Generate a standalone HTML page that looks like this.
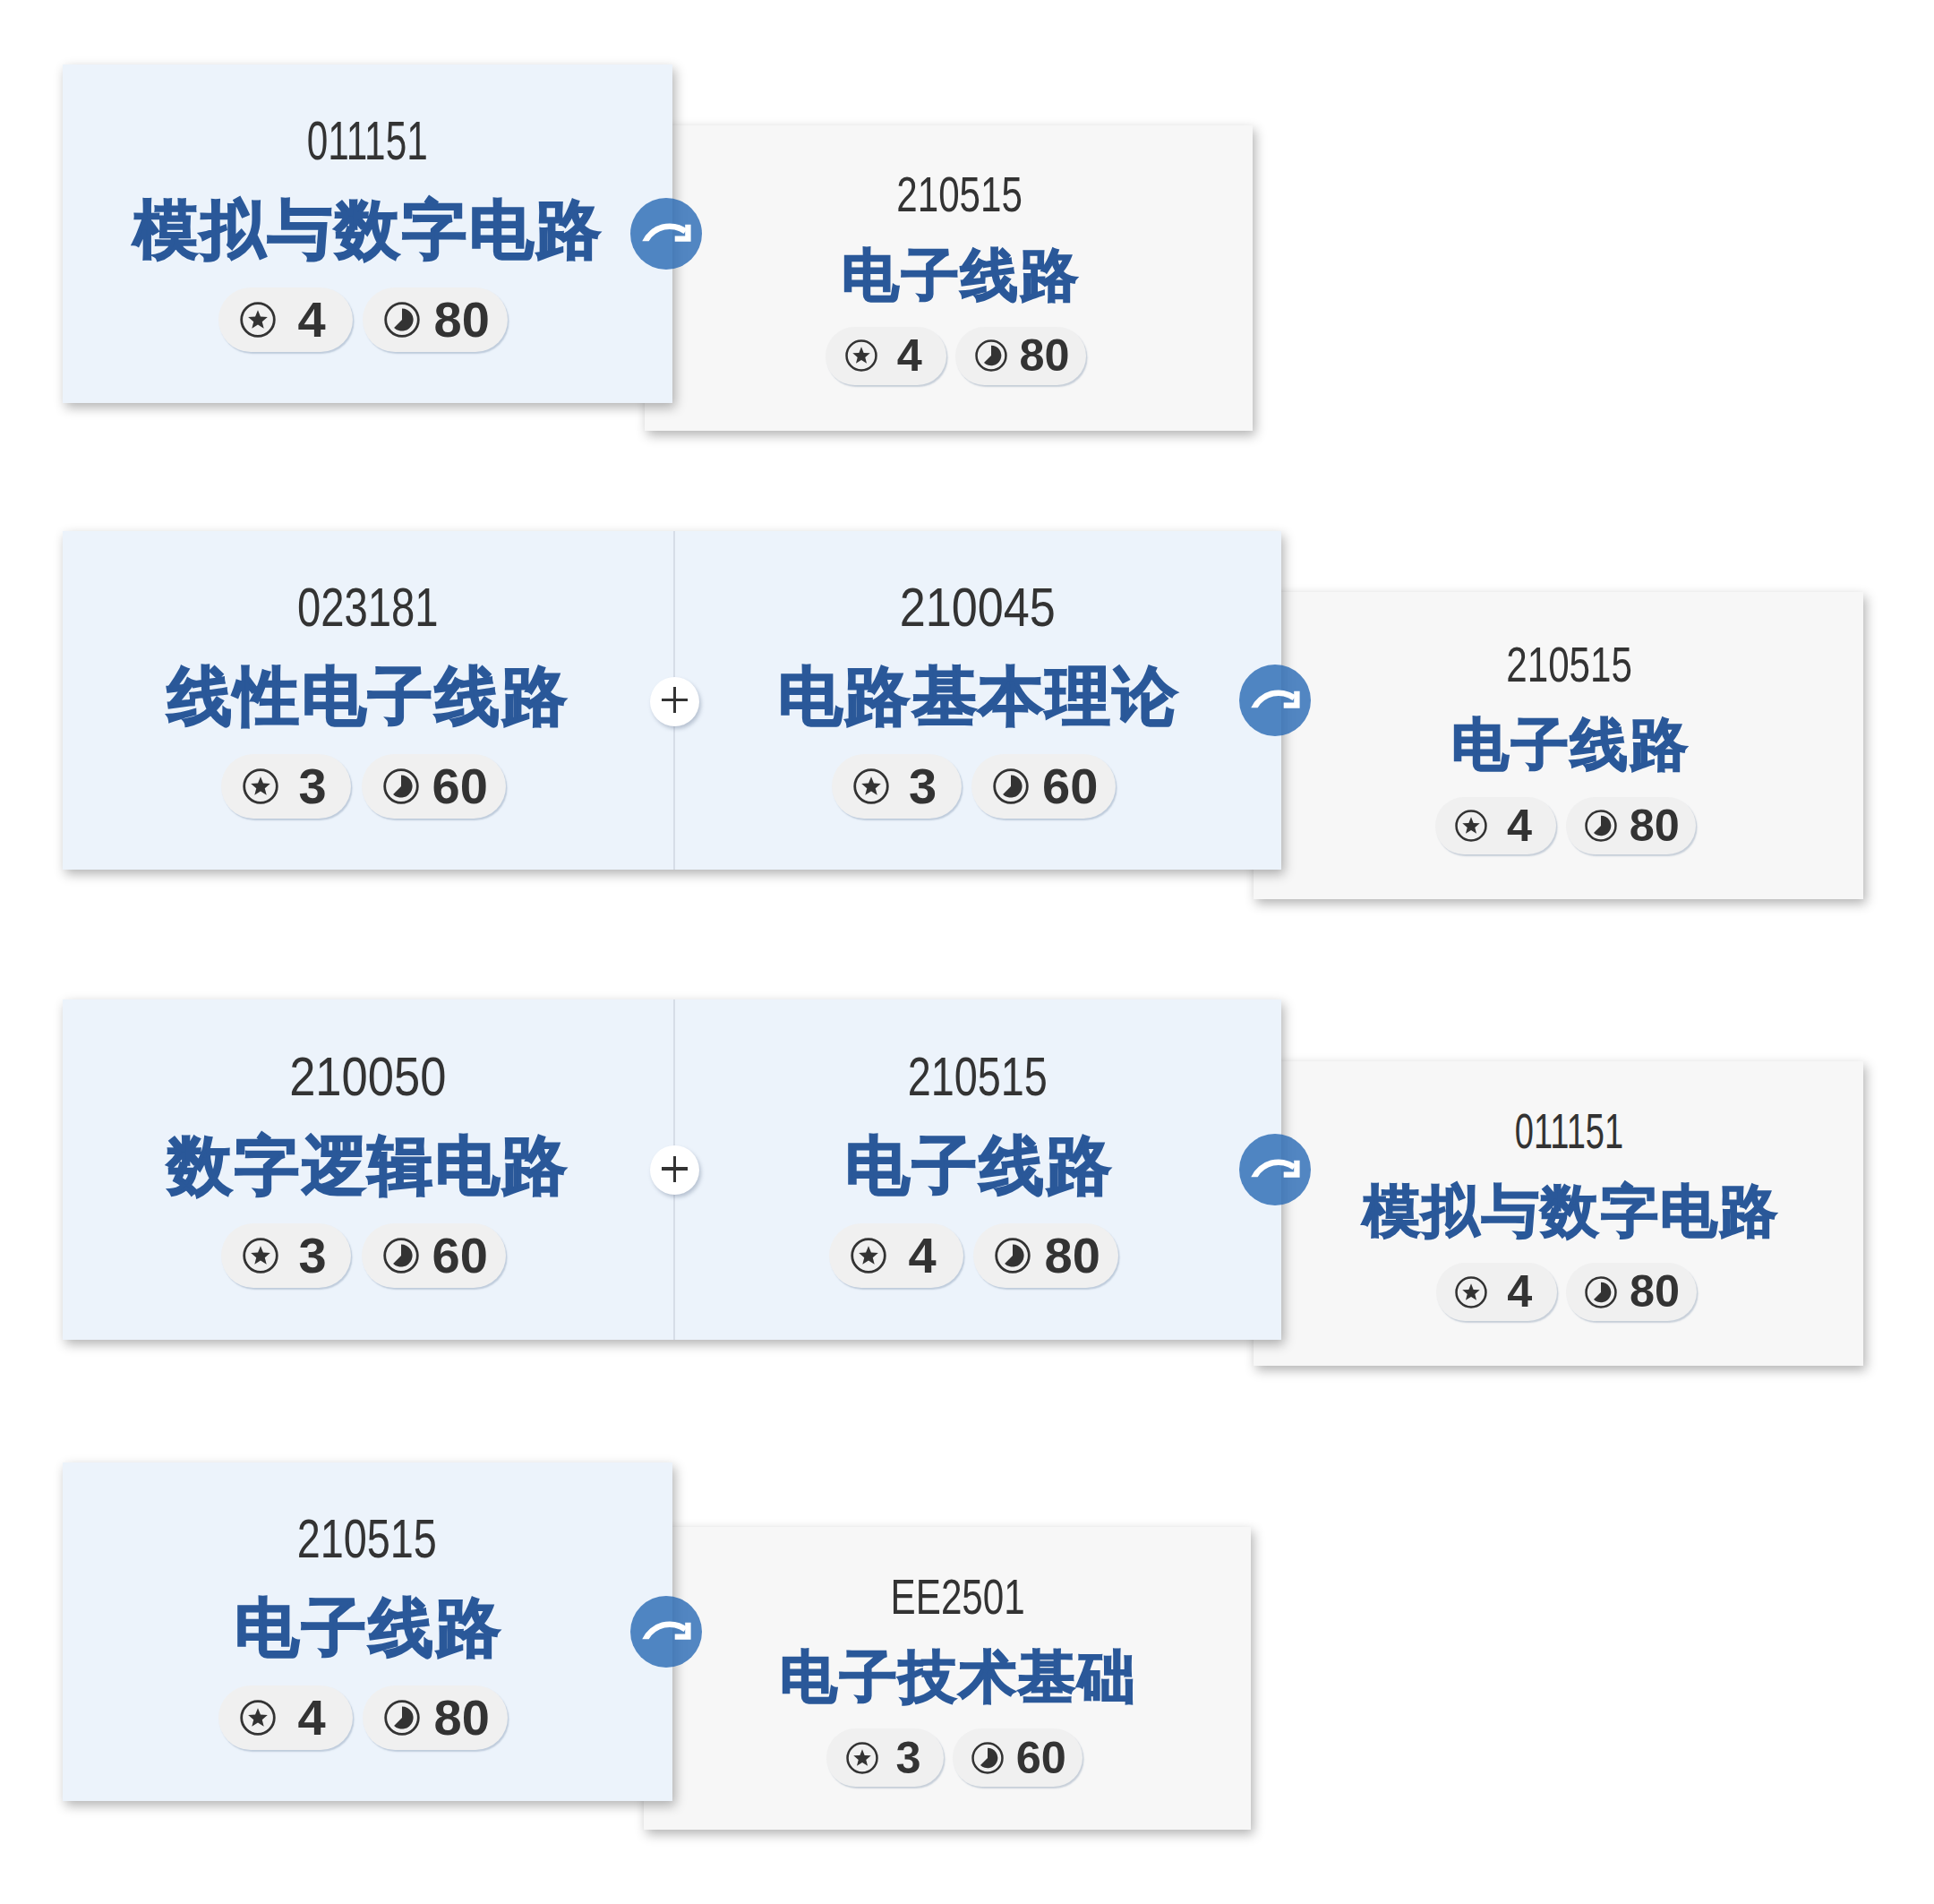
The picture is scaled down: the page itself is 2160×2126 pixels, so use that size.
<!DOCTYPE html>
<html><head><meta charset="utf-8"><title>courses</title><style>
html,body{margin:0;padding:0;background:#fff;}
body{width:2160px;height:2126px;position:relative;overflow:hidden;font-family:"Liberation Sans",sans-serif;}
.card{position:absolute;box-shadow:3px 5px 12px rgba(0,0,0,0.30);}
.code{position:absolute;width:1000px;text-align:center;color:#333333;white-space:nowrap;z-index:5}
.code span{display:inline-block;transform-origin:50% 50%}
.name{position:absolute;width:1000px;text-align:center;color:#2a5899;font-weight:bold;white-space:nowrap;z-index:5}
.name span{display:inline-block;transform:scaleX(1.015);letter-spacing:0.04em;margin-right:-0.04em}
.pills{position:absolute;display:flex;z-index:5}
.pill{box-sizing:border-box;display:flex;align-items:center;background:#f0f0f0;box-shadow:1.5px 2px 1.5px rgba(90,115,150,0.30);}
.pv{flex:1;text-align:center;font-weight:bold;color:#333333;line-height:1;}
.divider{position:absolute;width:2px;background:#d6dde7;z-index:3}
.arrow{position:absolute;border-radius:50%;background:rgba(40,105,180,0.8);z-index:10}
.plus{position:absolute;border-radius:50%;background:#fff;box-shadow:2px 3px 4px rgba(120,135,160,0.45);z-index:10}
</style></head><body>
<div class="card" style="left:70px;top:72px;width:681px;height:377.5px;background:#ecf3fb;z-index:2"></div>
<div class="code" style="left:-90.00px;top:127.00px;font-size:61.00px;line-height:61.00px"><span style="transform:scaleX(0.6938)">011151</span></div>
<div class="name" style="left:-90.00px;top:221.58px;font-size:70.50px;line-height:70.50px;-webkit-text-stroke:2.00px #2a5899"><span>模拟与数字电路</span></div>
<div class="pills" style="left:243.95px;top:320.95px;gap:11.50px"><div class="pill" style="width:150.00px;height:72.00px;border-radius:36.00px;padding-left:24.00px;padding-right:5.50px"><svg width="40.00" height="40.00" viewBox="0 0 40 40" style="display:block;flex:none"><circle cx="20" cy="20" r="18.3" fill="none" stroke="#333333" stroke-width="2.8"/><path d="M20.00,9.20 L22.94,16.55 L30.84,17.08 L24.76,22.15 L26.70,29.82 L20.00,25.60 L13.30,29.82 L15.24,22.15 L9.16,17.08 L17.06,16.55Z" fill="#333333"/></svg><span class="pv" style="font-size:56.00px">4</span></div><div class="pill" style="width:162.00px;height:72.00px;border-radius:36.00px;padding-left:24.00px;padding-right:5.50px"><svg width="40.00" height="40.00" viewBox="0 0 40 40" style="display:block;flex:none"><circle cx="20" cy="20" r="18.3" fill="none" stroke="#333333" stroke-width="2.8"/><path d="M20,20 L20,7.4 A12.6,12.6 0 1 1 11.09,28.91 Z" fill="#333333"/></svg><span class="pv" style="font-size:56.00px">80</span></div></div>
<div class="arrow" style="left:704.00px;top:220.75px;width:80px;height:80px"><svg width="80" height="80" viewBox="0 0 80 80" style="display:block"><path d="M13.24,48.2 A33.8,33.8 0 0 1 63.39,34.51 L59.60,39.92 A27.2,27.2 0 0 0 20.68,48.2 Z" fill="#fff"/><polyline points="64.4,29.8 64.4,45.6 49.7,45.6" fill="none" stroke="#fff" stroke-width="6.4" stroke-linejoin="miter" stroke-linecap="butt"/></svg></div>
<div class="card" style="left:719.5px;top:140.4px;width:679.3px;height:340.9px;background:#f7f7f7;z-index:1"></div>
<div class="code" style="left:571.45px;top:190.48px;font-size:54.90px;line-height:54.90px"><span style="transform:scaleX(0.7672)">210515</span></div>
<div class="name" style="left:571.45px;top:275.60px;font-size:63.45px;line-height:63.45px;-webkit-text-stroke:1.80px #2a5899"><span>电子线路</span></div>
<div class="pills" style="left:922.00px;top:365.03px;gap:10.35px"><div class="pill" style="width:135.00px;height:64.80px;border-radius:32.40px;padding-left:21.60px;padding-right:4.95px"><svg width="36.00" height="36.00" viewBox="0 0 40 40" style="display:block;flex:none"><circle cx="20" cy="20" r="18.3" fill="none" stroke="#333333" stroke-width="2.8"/><path d="M20.00,9.20 L22.94,16.55 L30.84,17.08 L24.76,22.15 L26.70,29.82 L20.00,25.60 L13.30,29.82 L15.24,22.15 L9.16,17.08 L17.06,16.55Z" fill="#333333"/></svg><span class="pv" style="font-size:50.40px">4</span></div><div class="pill" style="width:145.80px;height:64.80px;border-radius:32.40px;padding-left:21.60px;padding-right:4.95px"><svg width="36.00" height="36.00" viewBox="0 0 40 40" style="display:block;flex:none"><circle cx="20" cy="20" r="18.3" fill="none" stroke="#333333" stroke-width="2.8"/><path d="M20,20 L20,7.4 A12.6,12.6 0 1 1 11.09,28.91 Z" fill="#333333"/></svg><span class="pv" style="font-size:50.40px">80</span></div></div>
<div class="card" style="left:70px;top:592.7px;width:1361px;height:378.5999999999999px;background:#ecf3fb;z-index:2"></div>
<div class="divider" style="left:752.2px;top:592.7px;height:378.5999999999999px"></div>
<div class="code" style="left:-89.50px;top:648.25px;font-size:61.00px;line-height:61.00px"><span style="transform:scaleX(0.7747)">023181</span></div>
<div class="name" style="left:-89.50px;top:742.83px;font-size:70.50px;line-height:70.50px;-webkit-text-stroke:2.00px #2a5899"><span>线性电子线路</span></div>
<div class="pills" style="left:247.45px;top:842.20px;gap:11.50px"><div class="pill" style="width:145.00px;height:72.00px;border-radius:36.00px;padding-left:24.00px;padding-right:5.50px"><svg width="40.00" height="40.00" viewBox="0 0 40 40" style="display:block;flex:none"><circle cx="20" cy="20" r="18.3" fill="none" stroke="#333333" stroke-width="2.8"/><path d="M20.00,9.20 L22.94,16.55 L30.84,17.08 L24.76,22.15 L26.70,29.82 L20.00,25.60 L13.30,29.82 L15.24,22.15 L9.16,17.08 L17.06,16.55Z" fill="#333333"/></svg><span class="pv" style="font-size:56.00px">3</span></div><div class="pill" style="width:161.00px;height:72.00px;border-radius:36.00px;padding-left:24.00px;padding-right:5.50px"><svg width="40.00" height="40.00" viewBox="0 0 40 40" style="display:block;flex:none"><circle cx="20" cy="20" r="18.3" fill="none" stroke="#333333" stroke-width="2.8"/><path d="M20,20 L20,7.4 A12.6,12.6 0 1 1 11.09,28.91 Z" fill="#333333"/></svg><span class="pv" style="font-size:56.00px">60</span></div></div>
<div class="code" style="left:592.00px;top:648.25px;font-size:61.00px;line-height:61.00px"><span style="transform:scaleX(0.8558)">210045</span></div>
<div class="name" style="left:592.00px;top:742.83px;font-size:70.50px;line-height:70.50px;-webkit-text-stroke:2.00px #2a5899"><span>电路基本理论</span></div>
<div class="pills" style="left:928.95px;top:842.20px;gap:11.50px"><div class="pill" style="width:145.00px;height:72.00px;border-radius:36.00px;padding-left:24.00px;padding-right:5.50px"><svg width="40.00" height="40.00" viewBox="0 0 40 40" style="display:block;flex:none"><circle cx="20" cy="20" r="18.3" fill="none" stroke="#333333" stroke-width="2.8"/><path d="M20.00,9.20 L22.94,16.55 L30.84,17.08 L24.76,22.15 L26.70,29.82 L20.00,25.60 L13.30,29.82 L15.24,22.15 L9.16,17.08 L17.06,16.55Z" fill="#333333"/></svg><span class="pv" style="font-size:56.00px">3</span></div><div class="pill" style="width:161.00px;height:72.00px;border-radius:36.00px;padding-left:24.00px;padding-right:5.50px"><svg width="40.00" height="40.00" viewBox="0 0 40 40" style="display:block;flex:none"><circle cx="20" cy="20" r="18.3" fill="none" stroke="#333333" stroke-width="2.8"/><path d="M20,20 L20,7.4 A12.6,12.6 0 1 1 11.09,28.91 Z" fill="#333333"/></svg><span class="pv" style="font-size:56.00px">60</span></div></div>
<div class="plus" style="left:726.00px;top:755.50px;width:55px;height:55px"><div style="position:absolute;left:13.10px;top:24.10px;width:28.8px;height:3.8px;background:#333333"></div><div style="position:absolute;left:25.60px;top:11.80px;width:3.8px;height:28.4px;background:#333333"></div></div>
<div class="arrow" style="left:1384.00px;top:742.00px;width:80px;height:80px"><svg width="80" height="80" viewBox="0 0 80 80" style="display:block"><path d="M13.24,48.2 A33.8,33.8 0 0 1 63.39,34.51 L59.60,39.92 A27.2,27.2 0 0 0 20.68,48.2 Z" fill="#fff"/><polyline points="64.4,29.8 64.4,45.6 49.7,45.6" fill="none" stroke="#fff" stroke-width="6.4" stroke-linejoin="miter" stroke-linecap="butt"/></svg></div>
<div class="card" style="left:1399.5px;top:660.5px;width:681.6999999999998px;height:343.9px;background:#f7f7f7;z-index:1"></div>
<div class="code" style="left:1252.65px;top:715.08px;font-size:54.90px;line-height:54.90px"><span style="transform:scaleX(0.7672)">210515</span></div>
<div class="name" style="left:1252.65px;top:800.20px;font-size:63.45px;line-height:63.45px;-webkit-text-stroke:1.80px #2a5899"><span>电子线路</span></div>
<div class="pills" style="left:1603.20px;top:889.63px;gap:10.35px"><div class="pill" style="width:135.00px;height:64.80px;border-radius:32.40px;padding-left:21.60px;padding-right:4.95px"><svg width="36.00" height="36.00" viewBox="0 0 40 40" style="display:block;flex:none"><circle cx="20" cy="20" r="18.3" fill="none" stroke="#333333" stroke-width="2.8"/><path d="M20.00,9.20 L22.94,16.55 L30.84,17.08 L24.76,22.15 L26.70,29.82 L20.00,25.60 L13.30,29.82 L15.24,22.15 L9.16,17.08 L17.06,16.55Z" fill="#333333"/></svg><span class="pv" style="font-size:50.40px">4</span></div><div class="pill" style="width:145.80px;height:64.80px;border-radius:32.40px;padding-left:21.60px;padding-right:4.95px"><svg width="36.00" height="36.00" viewBox="0 0 40 40" style="display:block;flex:none"><circle cx="20" cy="20" r="18.3" fill="none" stroke="#333333" stroke-width="2.8"/><path d="M20,20 L20,7.4 A12.6,12.6 0 1 1 11.09,28.91 Z" fill="#333333"/></svg><span class="pv" style="font-size:50.40px">80</span></div></div>
<div class="card" style="left:70px;top:1115.8px;width:1361px;height:380.10000000000014px;background:#ecf3fb;z-index:2"></div>
<div class="divider" style="left:752.2px;top:1115.8px;height:380.10000000000014px"></div>
<div class="code" style="left:-89.50px;top:1172.10px;font-size:61.00px;line-height:61.00px"><span style="transform:scaleX(0.8608)">210050</span></div>
<div class="name" style="left:-89.50px;top:1266.68px;font-size:70.50px;line-height:70.50px;-webkit-text-stroke:2.00px #2a5899"><span>数字逻辑电路</span></div>
<div class="pills" style="left:247.45px;top:1366.05px;gap:11.50px"><div class="pill" style="width:145.00px;height:72.00px;border-radius:36.00px;padding-left:24.00px;padding-right:5.50px"><svg width="40.00" height="40.00" viewBox="0 0 40 40" style="display:block;flex:none"><circle cx="20" cy="20" r="18.3" fill="none" stroke="#333333" stroke-width="2.8"/><path d="M20.00,9.20 L22.94,16.55 L30.84,17.08 L24.76,22.15 L26.70,29.82 L20.00,25.60 L13.30,29.82 L15.24,22.15 L9.16,17.08 L17.06,16.55Z" fill="#333333"/></svg><span class="pv" style="font-size:56.00px">3</span></div><div class="pill" style="width:161.00px;height:72.00px;border-radius:36.00px;padding-left:24.00px;padding-right:5.50px"><svg width="40.00" height="40.00" viewBox="0 0 40 40" style="display:block;flex:none"><circle cx="20" cy="20" r="18.3" fill="none" stroke="#333333" stroke-width="2.8"/><path d="M20,20 L20,7.4 A12.6,12.6 0 1 1 11.09,28.91 Z" fill="#333333"/></svg><span class="pv" style="font-size:56.00px">60</span></div></div>
<div class="code" style="left:592.00px;top:1172.10px;font-size:61.00px;line-height:61.00px"><span style="transform:scaleX(0.7672)">210515</span></div>
<div class="name" style="left:592.00px;top:1266.68px;font-size:70.50px;line-height:70.50px;-webkit-text-stroke:2.00px #2a5899"><span>电子线路</span></div>
<div class="pills" style="left:925.95px;top:1366.05px;gap:11.50px"><div class="pill" style="width:150.00px;height:72.00px;border-radius:36.00px;padding-left:24.00px;padding-right:5.50px"><svg width="40.00" height="40.00" viewBox="0 0 40 40" style="display:block;flex:none"><circle cx="20" cy="20" r="18.3" fill="none" stroke="#333333" stroke-width="2.8"/><path d="M20.00,9.20 L22.94,16.55 L30.84,17.08 L24.76,22.15 L26.70,29.82 L20.00,25.60 L13.30,29.82 L15.24,22.15 L9.16,17.08 L17.06,16.55Z" fill="#333333"/></svg><span class="pv" style="font-size:56.00px">4</span></div><div class="pill" style="width:162.00px;height:72.00px;border-radius:36.00px;padding-left:24.00px;padding-right:5.50px"><svg width="40.00" height="40.00" viewBox="0 0 40 40" style="display:block;flex:none"><circle cx="20" cy="20" r="18.3" fill="none" stroke="#333333" stroke-width="2.8"/><path d="M20,20 L20,7.4 A12.6,12.6 0 1 1 11.09,28.91 Z" fill="#333333"/></svg><span class="pv" style="font-size:56.00px">80</span></div></div>
<div class="plus" style="left:726.00px;top:1279.35px;width:55px;height:55px"><div style="position:absolute;left:13.10px;top:24.10px;width:28.8px;height:3.8px;background:#333333"></div><div style="position:absolute;left:25.60px;top:11.80px;width:3.8px;height:28.4px;background:#333333"></div></div>
<div class="arrow" style="left:1384.00px;top:1265.85px;width:80px;height:80px"><svg width="80" height="80" viewBox="0 0 80 80" style="display:block"><path d="M13.24,48.2 A33.8,33.8 0 0 1 63.39,34.51 L59.60,39.92 A27.2,27.2 0 0 0 20.68,48.2 Z" fill="#fff"/><polyline points="64.4,29.8 64.4,45.6 49.7,45.6" fill="none" stroke="#fff" stroke-width="6.4" stroke-linejoin="miter" stroke-linecap="butt"/></svg></div>
<div class="card" style="left:1400px;top:1185px;width:681.3000000000002px;height:340.20000000000005px;background:#f7f7f7;z-index:1"></div>
<div class="code" style="left:1252.95px;top:1235.72px;font-size:54.90px;line-height:54.90px"><span style="transform:scaleX(0.6938)">011151</span></div>
<div class="name" style="left:1252.95px;top:1320.85px;font-size:63.45px;line-height:63.45px;-webkit-text-stroke:1.80px #2a5899"><span>模拟与数字电路</span></div>
<div class="pills" style="left:1603.51px;top:1410.28px;gap:10.35px"><div class="pill" style="width:135.00px;height:64.80px;border-radius:32.40px;padding-left:21.60px;padding-right:4.95px"><svg width="36.00" height="36.00" viewBox="0 0 40 40" style="display:block;flex:none"><circle cx="20" cy="20" r="18.3" fill="none" stroke="#333333" stroke-width="2.8"/><path d="M20.00,9.20 L22.94,16.55 L30.84,17.08 L24.76,22.15 L26.70,29.82 L20.00,25.60 L13.30,29.82 L15.24,22.15 L9.16,17.08 L17.06,16.55Z" fill="#333333"/></svg><span class="pv" style="font-size:50.40px">4</span></div><div class="pill" style="width:145.80px;height:64.80px;border-radius:32.40px;padding-left:21.60px;padding-right:4.95px"><svg width="36.00" height="36.00" viewBox="0 0 40 40" style="display:block;flex:none"><circle cx="20" cy="20" r="18.3" fill="none" stroke="#333333" stroke-width="2.8"/><path d="M20,20 L20,7.4 A12.6,12.6 0 1 1 11.09,28.91 Z" fill="#333333"/></svg><span class="pv" style="font-size:50.40px">80</span></div></div>
<div class="card" style="left:70px;top:1632.7px;width:681px;height:378.39999999999986px;background:#ecf3fb;z-index:2"></div>
<div class="code" style="left:-90.00px;top:1688.15px;font-size:61.00px;line-height:61.00px"><span style="transform:scaleX(0.7672)">210515</span></div>
<div class="name" style="left:-90.00px;top:1782.73px;font-size:70.50px;line-height:70.50px;-webkit-text-stroke:2.00px #2a5899"><span>电子线路</span></div>
<div class="pills" style="left:243.95px;top:1882.10px;gap:11.50px"><div class="pill" style="width:150.00px;height:72.00px;border-radius:36.00px;padding-left:24.00px;padding-right:5.50px"><svg width="40.00" height="40.00" viewBox="0 0 40 40" style="display:block;flex:none"><circle cx="20" cy="20" r="18.3" fill="none" stroke="#333333" stroke-width="2.8"/><path d="M20.00,9.20 L22.94,16.55 L30.84,17.08 L24.76,22.15 L26.70,29.82 L20.00,25.60 L13.30,29.82 L15.24,22.15 L9.16,17.08 L17.06,16.55Z" fill="#333333"/></svg><span class="pv" style="font-size:56.00px">4</span></div><div class="pill" style="width:162.00px;height:72.00px;border-radius:36.00px;padding-left:24.00px;padding-right:5.50px"><svg width="40.00" height="40.00" viewBox="0 0 40 40" style="display:block;flex:none"><circle cx="20" cy="20" r="18.3" fill="none" stroke="#333333" stroke-width="2.8"/><path d="M20,20 L20,7.4 A12.6,12.6 0 1 1 11.09,28.91 Z" fill="#333333"/></svg><span class="pv" style="font-size:56.00px">80</span></div></div>
<div class="arrow" style="left:704.00px;top:1781.90px;width:80px;height:80px"><svg width="80" height="80" viewBox="0 0 80 80" style="display:block"><path d="M13.24,48.2 A33.8,33.8 0 0 1 63.39,34.51 L59.60,39.92 A27.2,27.2 0 0 0 20.68,48.2 Z" fill="#fff"/><polyline points="64.4,29.8 64.4,45.6 49.7,45.6" fill="none" stroke="#fff" stroke-width="6.4" stroke-linejoin="miter" stroke-linecap="butt"/></svg></div>
<div class="card" style="left:718.5px;top:1704.5px;width:678.0px;height:338.5999999999999px;background:#f7f7f7;z-index:1"></div>
<div class="code" style="left:569.80px;top:1755.92px;font-size:54.90px;line-height:54.90px"><span style="transform:scaleX(0.7688)">EE2501</span></div>
<div class="name" style="left:569.80px;top:1841.05px;font-size:63.45px;line-height:63.45px;-webkit-text-stroke:1.80px #2a5899"><span>电子技术基础</span></div>
<div class="pills" style="left:923.05px;top:1930.48px;gap:10.35px"><div class="pill" style="width:130.50px;height:64.80px;border-radius:32.40px;padding-left:21.60px;padding-right:4.95px"><svg width="36.00" height="36.00" viewBox="0 0 40 40" style="display:block;flex:none"><circle cx="20" cy="20" r="18.3" fill="none" stroke="#333333" stroke-width="2.8"/><path d="M20.00,9.20 L22.94,16.55 L30.84,17.08 L24.76,22.15 L26.70,29.82 L20.00,25.60 L13.30,29.82 L15.24,22.15 L9.16,17.08 L17.06,16.55Z" fill="#333333"/></svg><span class="pv" style="font-size:50.40px">3</span></div><div class="pill" style="width:144.90px;height:64.80px;border-radius:32.40px;padding-left:21.60px;padding-right:4.95px"><svg width="36.00" height="36.00" viewBox="0 0 40 40" style="display:block;flex:none"><circle cx="20" cy="20" r="18.3" fill="none" stroke="#333333" stroke-width="2.8"/><path d="M20,20 L20,7.4 A12.6,12.6 0 1 1 11.09,28.91 Z" fill="#333333"/></svg><span class="pv" style="font-size:50.40px">60</span></div></div>
</body></html>
